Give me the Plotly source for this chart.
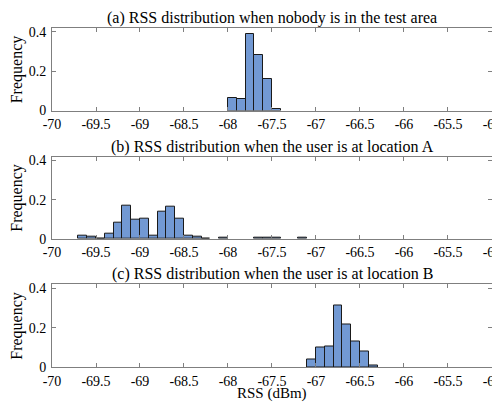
import plotly.graph_objects as go
from plotly.subplots import make_subplots

bin_width = 0.1

# (a) nobody in the test area
a_edges = [-68.0, -67.9, -67.8, -67.7, -67.6, -67.5]
a_freq = [0.066, 0.061, 0.392, 0.282, 0.158, 0.010]

# (b) user at location A
b_edges = [-69.7, -69.6, -69.5, -69.4, -69.3, -69.2, -69.1, -69.0, -68.9, -68.8,
           -68.7, -68.6, -68.5, -68.4, -68.3, -68.1, -67.7, -67.6, -67.5, -67.2]
b_freq = [0.015, 0.009, 0.001, 0.027, 0.082, 0.168, 0.097, 0.105, 0.013, 0.138,
          0.162, 0.102, 0.017, 0.010, 0.002, 0.004, 0.003, 0.005, 0.003, 0.004]

# (c) user at location B
c_edges = [-67.1, -67.0, -66.9, -66.8, -66.7, -66.6, -66.5, -66.4]
c_freq = [0.038, 0.098, 0.105, 0.315, 0.215, 0.132, 0.078, 0.007]

titles = ["(a) RSS distribution when nobody is in the test area",
          "(b) RSS distribution when the user is at location A",
          "(c) RSS distribution when the user is at location B"]

x_ticks = [-70, -69.5, -69, -68.5, -68, -67.5, -67, -66.5, -66, -65.5, -65]
x_ticktext = ["-70", "-69.5", "-69", "-68.5", "-68", "-67.5", "-67", "-66.5", "-66", "-65.5", "-65"]
y_ticks = [0, 0.2, 0.4]
y_ticktext = ["0", "0.2", "0.4"]

FONT = "Liberation Serif"
bar_color = "#7299d3"
axis_color = "#7f7f7f"

fig = make_subplots(rows=3, cols=1)

domains = [(0.7566, 1.0), (0.3785, 0.6204), (0.0, 0.2434)]
series = [(a_edges, a_freq), (b_edges, b_freq), (c_edges, c_freq)]

for i, (edges, freq) in enumerate(series):
    r = i + 1
    fig.add_trace(go.Bar(x=edges, y=freq, width=bin_width, offset=0,
                         marker=dict(color=bar_color, line=dict(color="#1a1a1a", width=1)),
                         showlegend=False), row=r, col=1)
    ax = "" if r == 1 else str(r)
    fig.update_xaxes(range=[-70, -64.9995], tickvals=x_ticks, ticktext=x_ticktext,
                     ticks="inside", ticklen=4, tickcolor=axis_color,
                     showline=True, linecolor=axis_color, linewidth=1, mirror="ticks",
                     showgrid=False, zeroline=False, automargin=False, ticklabelstandoff=1,
                     ticklabeloverflow="allow",
                     tickfont=dict(family=FONT, size=14, color="#000"), row=r, col=1)
    fig.update_yaxes(range=[0, 0.42], tickvals=y_ticks, ticktext=y_ticktext,
                     ticks="inside", ticklen=4, tickcolor=axis_color,
                     showline=True, linecolor=axis_color, linewidth=1, mirror="ticks",
                     showgrid=False, zeroline=False, domain=list(domains[i]), automargin=False,
                     ticklabelstandoff=2, ticklabeloverflow="allow",
                     tickfont=dict(family=FONT, size=14, color="#000"), row=r, col=1)
    fig.add_annotation(text=titles[i], xref="x%s domain" % ax, yref="y%s domain" % ax,
                       x=0.5, y=1, yanchor="middle", xanchor="center", yshift=10,
                       showarrow=False, font=dict(family=FONT, size=16, color="#000"))
    fig.add_annotation(text="Frequency", xref="paper", yref="y%s domain" % ax,
                       x=-0.0795, y=0.5, xanchor="center", yanchor="middle", textangle=-90,
                       showarrow=False, font=dict(family=FONT, size=16, color="#000"))

fig.add_annotation(text="RSS (dBm)", xref="paper", yref="paper", x=0.5, y=-0.0776,
                   xanchor="center", yanchor="middle", showarrow=False,
                   font=dict(family=FONT, size=15, color="#000"))

fig.update_layout(width=492, height=396, margin=dict(l=44, r=8, t=20, b=37),
                  paper_bgcolor="white", plot_bgcolor="white", bargap=0,
                  font=dict(family=FONT))

fig.write_html("out.html")
